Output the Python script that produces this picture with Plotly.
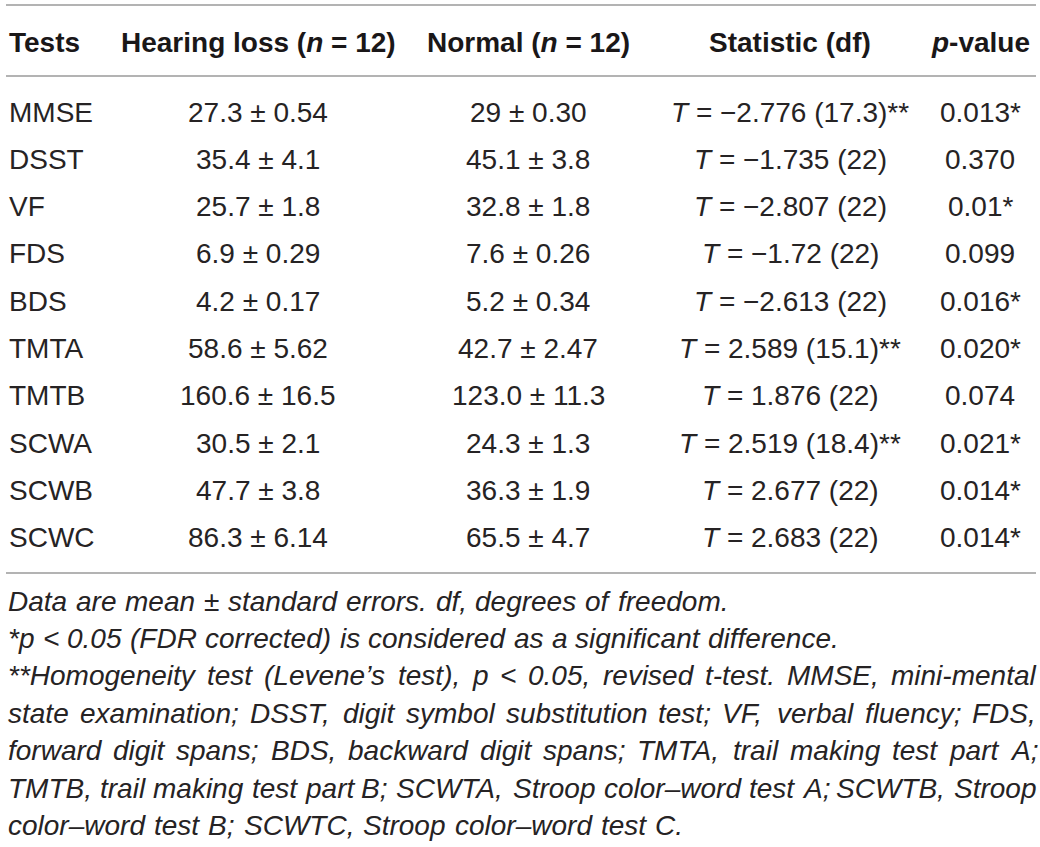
import plotly.graph_objects as go

# ---------------------------
# TABLE DATA
# ---------------------------
tests = ["MMSE", "DSST", "VF", "FDS", "BDS", "TMTA", "TMTB", "SCWA", "SCWB", "SCWC"]
hearing_loss = ["27.3 ± 0.54", "35.4 ± 4.1", "25.7 ± 1.8", "6.9 ± 0.29", "4.2 ± 0.17",
                "58.6 ± 5.62", "160.6 ± 16.5", "30.5 ± 2.1", "47.7 ± 3.8", "86.3 ± 6.14"]
normal = ["29 ± 0.30", "45.1 ± 3.8", "32.8 ± 1.8", "7.6 ± 0.26", "5.2 ± 0.34",
          "42.7 ± 2.47", "123.0 ± 11.3", "24.3 ± 1.3", "36.3 ± 1.9", "65.5 ± 4.7"]
t_values = ["−2.776", "−1.735", "−2.807", "−1.72", "−2.613",
            "2.589", "1.876", "2.519", "2.677", "2.683"]
dfs = ["17.3", "22", "22", "22", "22", "15.1", "22", "18.4", "22", "22"]
revised = [True, False, False, False, False, True, False, True, False, False]
p_values = ["0.013", "0.370", "0.01", "0.099", "0.016", "0.020", "0.074", "0.021", "0.014", "0.014"]
significant = [True, False, True, False, True, True, False, True, True, True]

headers = ["Tests", "Hearing loss (<i>n</i> = 12)", "Normal (<i>n</i> = 12)",
           "Statistic (df)", "<i>p</i>-value"]

notes = [
    "Data are mean ± standard errors. df, degrees of freedom.",
    "*p < 0.05 (FDR corrected) is considered as a significant difference.",
    "**Homogeneity test (Levene’s test), p < 0.05, revised t-test. MMSE, mini-mental",
    "state examination; DSST, digit symbol substitution test; VF, verbal fluency; FDS,",
    "forward digit spans; BDS, backward digit spans; TMTA, trail making test part A;",
    "TMTB, trail making test part B; SCWTA, Stroop color–word test A; SCWTB, Stroop",
    "color–word test B; SCWTC, Stroop color–word test C.",
]

# ---------------------------
# LAYOUT CONSTANTS (pixels)
# ---------------------------
W, H = 1040, 847
COL_X = [7, 258, 528, 790, 980]
HEADER_Y = 42
ROW0, ROW_STEP = 112, 47.3
NOTE_X, NOTE0, NOTE_STEP = 7, 601, 37.4
NOTE_TARGET = [720, 831, 1028, 1028, 1028, 1028, 675]   # line widths after justification
RULES_Y = [5, 76, 573]
TXT = "#262324"
FONT = "Liberation Sans"
SIZE, NOTE_SIZE = 28, 28

# Arial / Liberation Sans advance widths (1/1000 em), used to justify the notes
AW = {" ": 278, "*": 389, "<": 584, "±": 549, "’": 222, "–": 556, "-": 333,
      ".": 278, ",": 278, ";": 278, "(": 333, ")": 333,
      "A": 667, "B": 667, "C": 722, "D": 722, "E": 667, "F": 611, "G": 778, "H": 722,
      "I": 278, "L": 556, "M": 833, "N": 722, "P": 667, "R": 722, "S": 667, "T": 611,
      "V": 667, "W": 944,
      "a": 556, "b": 556, "c": 500, "d": 556, "e": 556, "f": 278, "g": 556, "h": 556,
      "i": 222, "j": 222, "k": 500, "l": 222, "m": 833, "n": 556, "o": 556, "p": 556,
      "q": 556, "r": 333, "s": 500, "t": 278, "u": 556, "v": 500, "w": 722, "x": 500,
      "y": 500, "z": 500}


def text_width(s, size):
    return sum(AW.get(ch, 556) for ch in s) * size / 1000


statistic = [f"<i>T</i> = {t} ({d})" + ("**" if r else "")
             for t, d, r in zip(t_values, dfs, revised)]
p_text = [p + ("*" if s else "") for p, s in zip(p_values, significant)]
columns = [tests, hearing_loss, normal, statistic, p_text]

fig = go.Figure()
fig.add_trace(go.Scatter(x=[0, W], y=[0, H], mode="markers",
                         marker=dict(opacity=0), hoverinfo="skip", showlegend=False))

annotations = []
for c, (hdr, col) in enumerate(zip(headers, columns)):
    anchor = "left" if c == 0 else "center"
    annotations.append(dict(x=COL_X[c], y=HEADER_Y, text=f"<b>{hdr}</b>",
                            xanchor=anchor, yanchor="middle", showarrow=False,
                            font=dict(family=FONT, size=SIZE, color="#1a1718")))
    for i, val in enumerate(col):
        annotations.append(dict(x=COL_X[c], y=ROW0 + i * ROW_STEP, text=val,
                                xanchor=anchor, yanchor="middle", showarrow=False,
                                font=dict(family=FONT, size=SIZE, color=TXT)))

# notes: one annotation per word so the lines can be justified
for i, line in enumerate(notes):
    words = line.split(" ")
    widths = [text_width(w, NOTE_SIZE) for w in words]
    gap = text_width(" ", NOTE_SIZE)
    if NOTE_TARGET[i]:
        gap = (NOTE_TARGET[i] - sum(widths)) / (len(words) - 1)
    x = NOTE_X
    for word, wd in zip(words, widths):
        annotations.append(dict(x=x, y=NOTE0 + i * NOTE_STEP,
                                text="<i>" + word.replace("<", "&lt;") + "</i>",
                                xanchor="left", yanchor="middle", showarrow=False,
                                borderpad=0,
                                font=dict(family=FONT, size=NOTE_SIZE, color=TXT)))
        x += wd + gap

shapes = [dict(type="line", x0=6, x1=1036, y0=y, y1=y, xref="x", yref="y",
               line=dict(color="#9a9a9a", width=1.6)) for y in RULES_Y]

fig.update_layout(
    width=W, height=H,
    margin=dict(l=0, r=0, t=0, b=0),
    paper_bgcolor="white", plot_bgcolor="white",
    xaxis=dict(range=[0, W], visible=False, fixedrange=True),
    yaxis=dict(range=[H, 0], visible=False, fixedrange=True),
    annotations=annotations, shapes=shapes,
    showlegend=False,
)

fig.write_html("out.html", config={"displayModeBar": False},
               post_script="document.body.style.margin='0';"
                           "document.body.style.overflow='hidden';")
